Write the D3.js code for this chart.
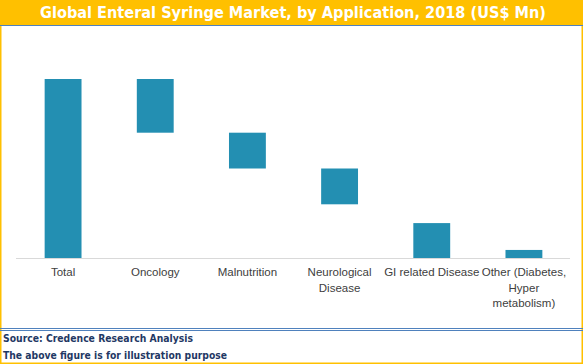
<!DOCTYPE html>
<html>
<head>
<meta charset="utf-8">
<script src="https://cdn.jsdelivr.net/npm/d3@7"></script>
<style>
  body { margin: 0; background: #fff; }
  svg { display: block; }
</style>
</head>
<body>
<div id="chart"></div>
<script>
// categories and floating bar ranges (start -> end), illustrative US$ Mn
const categories = ["Total", "Oncology", "Malnutrition", "Neurological Disease", "GI related Disease", "Other (Diabetes, Hyper metabolism)"];
const labelLines = [["Total"], ["Oncology"], ["Malnutrition"], ["Neurological", "Disease"], ["GI related Disease"], ["Other (Diabetes,", "Hyper", "metabolism)"]];
const barStart = [0, 70, 50, 30, 0, 0];
const barEnd = [100, 100, 70, 50, 19.5, 4.5];

const width = 583, height = 364;
const svg = d3.select("#chart").append("svg")
    .attr("width", width)
    .attr("height", height);

// frame
svg.append("rect").attr("x", 0.75).attr("y", 0.75).attr("width", width - 1.5).attr("height", height - 1.5)
    .attr("fill", "#fff").attr("stroke", "#FFC000").attr("stroke-width", 1.5);

// title band
svg.append("rect").attr("x", 0).attr("y", 0).attr("width", width).attr("height", 25).attr("fill", "#FFC000");
svg.append("line").attr("x1", 0).attr("x2", width).attr("y1", 25.5).attr("y2", 25.5)
    .attr("stroke", "#4F81BD").attr("stroke-width", 1);
svg.append("text")
    .attr("x", 293).attr("y", 17.5)
    .attr("text-anchor", "middle")
    .attr("textLength", 506).attr("lengthAdjust", "spacingAndGlyphs")
    .style("font-family", "'DejaVu Sans', Verdana, sans-serif")
    .style("font-weight", "bold").style("font-size", "15px")
    .attr("fill", "#fff")
    .text("Global Enteral Syringe Market, by Application, 2018 (US$ Mn)");

// scales
const x = d3.scaleBand().domain(categories).range([17, 570]).paddingInner(0.6).paddingOuter(0.3);
const y = d3.scaleLinear().domain([0, 100]).range([258, 79]);

// bars
svg.append("g").selectAll("rect").data(categories)
    .enter()
    .append("rect")
    .attr("x", d => x(d))
    .attr("width", x.bandwidth())
    .attr("y", (d, i) => y(barEnd[i]))
    .attr("height", (d, i) => y(barStart[i]) - y(barEnd[i]))
    .attr("fill", "#238FB2");

// axis line
svg.append("line").attr("x1", 16).attr("x2", 570).attr("y1", y(0) + 0.5).attr("y2", y(0) + 0.5)
    .attr("stroke", "#D9D9D9").attr("stroke-width", 1);

// category labels
const cx = d => x(d) + x.bandwidth() / 2;
const labels = svg.append("g").selectAll("text").data(categories)
    .enter()
    .append("text")
    .attr("x", cx)
    .attr("y", 276)
    .attr("text-anchor", "middle")
    .style("font-family", "'Liberation Sans', Arial, sans-serif")
    .style("font-size", "11.5px")
    .attr("fill", "#404040");
labels.each(function (d, i) {
    d3.select(this).selectAll("tspan").data(labelLines[i])
        .enter()
        .append("tspan")
        .attr("x", cx(d))
        .attr("dy", (t, j) => j === 0 ? 0 : 15.5)
        .text(t => t);
});

// footer
svg.append("line").attr("x1", 0).attr("x2", width).attr("y1", 328.5).attr("y2", 328.5).attr("stroke", "#4F81BD");
svg.append("line").attr("x1", 0).attr("x2", width).attr("y1", 330.5).attr("y2", 330.5).attr("stroke", "#4F81BD");
svg.append("text").attr("x", 3).attr("y", 341.5)
    .attr("textLength", 190).attr("lengthAdjust", "spacingAndGlyphs")
    .style("font-family", "'DejaVu Sans', Verdana, sans-serif")
    .style("font-weight", "bold").style("font-size", "10px")
    .attr("fill", "#1F3864")
    .text("Source: Credence Research Analysis");
svg.append("text").attr("x", 3).attr("y", 359)
    .attr("textLength", 224).attr("lengthAdjust", "spacingAndGlyphs")
    .style("font-family", "'DejaVu Sans', Verdana, sans-serif")
    .style("font-weight", "bold").style("font-size", "10px")
    .attr("fill", "#1F3864")
    .text("The above figure is for illustration purpose");
</script>
</body>
</html>
